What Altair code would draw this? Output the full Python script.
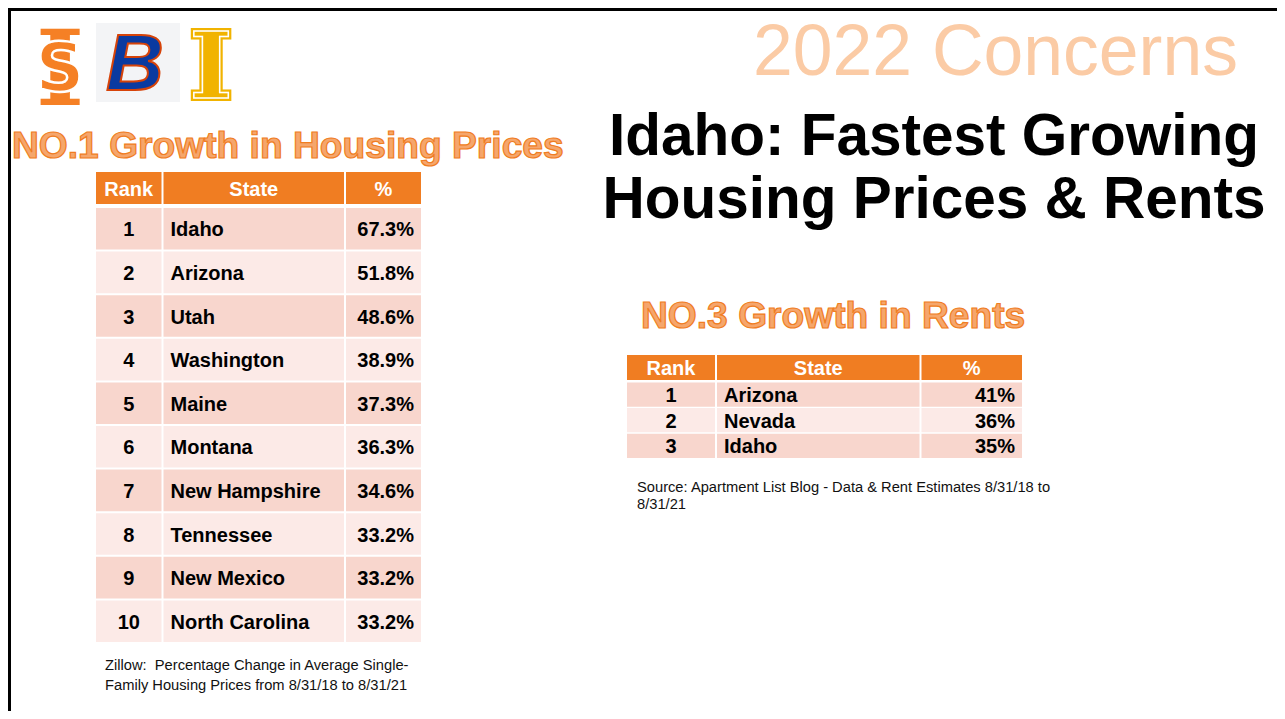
import altair as alt
import pandas as pd

# ---------------- data ----------------
home_rank = [1, 2, 3, 4, 5, 6, 7, 8, 9, 10]
home_state = ["Idaho", "Arizona", "Utah", "Washington", "Maine", "Montana",
              "New Hampshire", "Tennessee", "New Mexico", "North Carolina"]
home_pct = [67.3, 51.8, 48.6, 38.9, 37.3, 36.3, 34.6, 33.2, 33.2, 33.2]

rent_rank = [1, 2, 3]
rent_state = ["Arizona", "Nevada", "Idaho"]
rent_pct = [41, 36, 35]

headers = ["Rank", "State", "%"]

corner_title = "2022 Concerns"
main_title = ["Idaho: Fastest Growing", "Housing Prices & Rents"]
home_title = "NO.1 Growth in Housing Prices"
rent_title = "NO.3 Growth in Rents"
home_source = ["Zillow:\u00a0 Percentage Change in Average Single-",
               "Family Housing Prices from 8/31/18 to 8/31/21"]
rent_source = ["Source: Apartment List Blog - Data & Rent Estimates 8/31/18 to",
               "8/31/21"]

# ---------------- layout (page pixels) ----------------
OFF = 8
W, H = 1269, 703
ORANGE = "#F07D22"
BAND = ["#F8D6CD", "#FCEAE7"]
FONT = "Liberation Sans"

L_COLS = [(96, 161.5), (163.5, 344), (346, 421)]
L_HEAD = (172, 204)
L_ROW0, L_PITCH, L_ROWH = 208, 43.6, 41.6

R_COLS = [(627, 715), (717, 919.5), (921.5, 1022)]
R_HEAD = (355, 380)
R_ROW0, R_PITCH, R_ROWH = 382.5, 25.6, 24.2

TXT_NUDGE = 1.5  # optical centring of text in cells

xs = alt.Scale(domain=[OFF, OFF + W], nice=False, zero=False)
ys = alt.Scale(domain=[OFF, OFF + H], nice=False, zero=False, reverse=True)


def rect_layer(df):
    return alt.Chart(df).mark_rect().encode(
        x=alt.X("x:Q", scale=xs, axis=None), x2="x2:Q",
        y=alt.Y("y:Q", scale=ys, axis=None), y2="y2:Q",
        fill=alt.Fill("fill:N", scale=None))


def text_layer(df, **kw):
    base = dict(font=FONT, baseline="alphabetic")
    base.update(kw)
    return alt.Chart(df).mark_text(**base).encode(
        x=alt.X("x:Q", scale=xs, axis=None),
        y=alt.Y("y:Q", scale=ys, axis=None),
        text="t:N")


def table(ranks, states, pcts, fmt, cols, head, row0, pitch, rowh):
    cells, hdr, rk, st, pc = [], [], [], [], []
    for j, (a, b) in enumerate(cols):
        cells.append(dict(x=a, x2=b, y=head[0], y2=head[1], fill=ORANGE))
        hdr.append(dict(x=(a + b) / 2, y=(head[0] + head[1]) / 2 + TXT_NUDGE,
                        t=headers[j]))
    for i, (r, s, p) in enumerate(zip(ranks, states, pcts)):
        top = row0 + i * pitch
        for (a, b) in cols:
            cells.append(dict(x=a, x2=b, y=top, y2=top + rowh, fill=BAND[i % 2]))
        cy = top + rowh / 2 + TXT_NUDGE
        rk.append(dict(x=(cols[0][0] + cols[0][1]) / 2, y=cy, t=str(r)))
        st.append(dict(x=cols[1][0] + 7, y=cy, t=s))
        pc.append(dict(x=cols[2][1] - 7, y=cy, t=fmt.format(p) + "%"))
    tk = dict(fontSize=20, fontWeight="bold", baseline="middle")
    return [
        rect_layer(pd.DataFrame(cells)),
        text_layer(pd.DataFrame(hdr), color="white", align="center", **tk),
        text_layer(pd.DataFrame(rk), color="black", align="center", **tk),
        text_layer(pd.DataFrame(st), color="black", align="left", **tk),
        text_layer(pd.DataFrame(pc), color="black", align="right", **tk),
    ]


layers = []

# slide frame (left and top edges)
frame = pd.DataFrame([dict(x=9.5, x2=9.5, y=OFF, y2=OFF + H),
                      dict(x=OFF, x2=OFF + W, y=9.5, y2=9.5)])
layers.append(alt.Chart(frame).mark_rule(color="black", strokeWidth=3).encode(
    x=alt.X("x:Q", scale=xs, axis=None), x2="x2:Q",
    y=alt.Y("y:Q", scale=ys, axis=None), y2="y2:Q"))

# logos (approximations)
layers.append(rect_layer(pd.DataFrame([dict(x=96, x2=180, y=23, y2=102, fill="#F3F4F6")])))
layers.append(text_layer(pd.DataFrame([dict(x=60, y=105, t="I")]), font="DejaVu Serif",
                         fontWeight="bold", fontSize=104, color="#F58025", align="center"))
layers.append(text_layer(pd.DataFrame([dict(x=60, y=91, t="S")]), font="DejaVu Sans",
                         fontWeight="bold", fontSize=68, color="#F58025", align="center",
                         stroke="white", strokeWidth=2.5))
layers.append(text_layer(pd.DataFrame([dict(x=135, y=90, t="B")]), fontWeight="bold",
                         fontStyle="italic", fontSize=80, color="#0A3AA0", align="center",
                         stroke="#D64309", strokeWidth=2))
layers.append(text_layer(pd.DataFrame([dict(x=211, y=98, t="I")]), font="DejaVu Serif",
                         fontWeight="bold", fontSize=92, color="#F1B300", align="center",
                         stroke="#F1B300", strokeWidth=6))
layers.append(text_layer(pd.DataFrame([dict(x=211, y=98, t="I")]), font="DejaVu Serif",
                         fontWeight="bold", fontSize=92, color="#F1B300", align="center",
                         stroke="white", strokeWidth=1.5))

# titles
layers.append(text_layer(pd.DataFrame([dict(x=753, y=75, t=corner_title)]),
                         fontSize=71.5, color="#FBCBA5", align="left"))
layers.append(text_layer(pd.DataFrame([dict(x=934, y=155, t=main_title[0]),
                                       dict(x=934, y=218, t=main_title[1])]),
                         fontSize=58.5, fontWeight="bold", color="black", align="center"))
deco = dict(fontSize=37.2, fontWeight="bold", color="#F5A66C", stroke=ORANGE,
            strokeWidth=1.2, align="left")
layers.append(text_layer(pd.DataFrame([dict(x=12, y=158, t=home_title)]), **deco))
layers.append(text_layer(pd.DataFrame([dict(x=641, y=328, t=rent_title)]), **deco))

# tables
layers += table(home_rank, home_state, home_pct, "{:.1f}", L_COLS, L_HEAD,
                L_ROW0, L_PITCH, L_ROWH)
layers += table(rent_rank, rent_state, rent_pct, "{:.0f}", R_COLS, R_HEAD,
                R_ROW0, R_PITCH, R_ROWH)

# sources
src = dict(fontSize=14.7, color="#111111", align="left")
layers.append(text_layer(pd.DataFrame([dict(x=105, y=670, t=home_source[0]),
                                       dict(x=105, y=690, t=home_source[1])]), **src))
layers.append(text_layer(pd.DataFrame([dict(x=637, y=492, t=rent_source[0]),
                                       dict(x=637, y=509, t=rent_source[1])]), **src))

chart = alt.layer(*layers).properties(
    width=W, height=H, autosize=alt.AutoSizeParams(type="none"), padding=0,
    background="white"
).configure_view(stroke=None)

chart.save("out.html", embed_options={"renderer": "svg", "actions": False})
